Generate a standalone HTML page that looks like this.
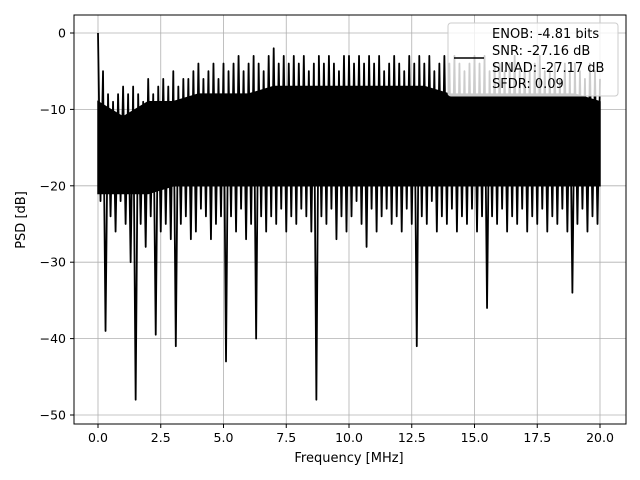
<!DOCTYPE html>
<html><head><meta charset="utf-8"><style>
body{margin:0;background:#fff;}
svg{display:block;font-family:"DejaVu Sans","Liberation Sans",sans-serif;}
</style></head><body>
<svg id="chart" width="640" height="480">
<rect x="0" y="0" width="640" height="480" fill="#fff"/>
<g id="grid"></g>
<g id="plot"></g>
<rect x="74" y="15" width="552" height="409" fill="none" stroke="#000" stroke-width="1"/>
<g id="ticks"></g>
<text x="349" y="462" font-size="13" text-anchor="middle">Frequency [MHz]</text>
<text transform="translate(25,220) rotate(-90)" font-size="13" text-anchor="middle">PSD [dB]</text>
<g>
<rect x="448" y="23" width="170" height="73" rx="3" fill="#fff" fill-opacity="0.8" stroke="#ccc"/>
<line x1="454" y1="58" x2="484" y2="58" stroke="#000" stroke-width="1.5"/>
<text x="492" y="38" font-size="13">ENOB: -4.81 bits</text>
<text x="492" y="55" font-size="13">SNR: -27.16 dB</text>
<text x="492" y="72" font-size="13">SINAD: -27.17 dB</text>
<text x="492" y="88" font-size="13">SFDR: 0.09</text>
</g>
</svg>
<script>
const xTicks=[0,2.5,5,7.5,10,12.5,15,17.5,20];
const xTickLabels=["0.0","2.5","5.0","7.5","10.0","12.5","15.0","17.5","20.0"];
const yTicks=[0,-10,-20,-30,-40,-50];
const yTickLabels=["0","\u221210","\u221220","\u221230","\u221240","\u221250"];
const fStart=0, fEnd=20;
const bandUpper=[-9,-11,-9,-9,-8,-8,-8,-7,-7,-7,-7,-7,-7,-7,-8,-8,-8,-8,-8,-8,-9];
const bandLower=[-21,-21,-21,-20,-20,-20,-20,-20,-20,-20,-20,-20,-20,-20,-20,-20,-20,-20,-20,-20,-20];
const psd=[0,-22,-5,-39,-8,-24,-9,-26,-8,-22,
-7,-25,-8,-30,-7,-48,-8,-25,-9,-28,
-6,-24,-8,-39.5,-7,-26,-6,-25,-7,-27,
-5,-41,-7,-25,-6,-24,-6,-27,-5,-26,
-4,-23,-6,-24,-5,-27,-4,-25,-6,-24,
-4,-43,-5,-24,-4,-26,-3,-23,-5,-27,
-4,-25,-3,-40,-4,-24,-5,-26,-3,-24,
-2,-25,-4,-23,-3,-26,-4,-24,-3,-25,
-4,-23,-3,-24,-5,-26,-4,-48,-3,-24,
-4,-25,-3,-23,-4,-27,-5,-24,-3,-26,
-3,-24,-4,-22,-3,-25,-4,-28,-3,-23,
-4,-26,-3,-24,-5,-23,-4,-25,-3,-24,
-4,-26,-5,-23,-3,-25,-4,-41,-3,-24,
-4,-25,-3,-22,-5,-26,-4,-24,-3,-25,
-4,-23,-3,-26,-4,-24,-5,-25,-4,-23,
-3,-26,-4,-24,-3,-36,-5,-24,-4,-25,
-4,-23,-5,-26,-4,-24,-3,-25,-5,-23,
-4,-26,-5,-24,-4,-25,-3,-23,-5,-26,
-5,-24,-4,-25,-6,-23,-4,-26,-5,-34,
-4,-25,-5,-23,-6,-26,-4,-24,-5,-25,-6];
const X0=98, X1=600, Y0=33, Y50=415;
function xs(f){return X0+(f-0)/20*(X1-X0);}
function ys(v){return Y0+(-v)/50*(Y50-Y0);}
const NS="http://www.w3.org/2000/svg";
const grid=document.getElementById('grid'), ticks=document.getElementById('ticks'), plot=document.getElementById('plot');
function mk(t,a){const e=document.createElementNS(NS,t);for(const k in a)e.setAttribute(k,a[k]);return e;}
xTicks.forEach((t,i)=>{
 const x=xs(t);
 const g=mk('line',{x1:x,y1:15,x2:x,y2:424,stroke:'#b0b0b0','stroke-width':0.8});
 
 
 grid.appendChild(g);
 const tk=mk('line',{x1:x,y1:424,x2:x,y2:428,stroke:'#000'});
 
 
 ticks.appendChild(tk);
 const tx=mk('text',{x:x,y:442,'font-size':12.5,'text-anchor':'middle'});
 tx.textContent=xTickLabels[i];
 
 
 ticks.appendChild(tx);
});
yTicks.forEach((t,i)=>{
 const y=ys(t);
 const g=mk('line',{x1:74,y1:y,x2:626,y2:y,stroke:'#b0b0b0','stroke-width':0.8});
 
 
 grid.appendChild(g);
 const tk=mk('line',{x1:70,y1:y,x2:74,y2:y,stroke:'#000'});
 
 
 ticks.appendChild(tk);
 const tx=mk('text',{x:66,y:y+4.5,'font-size':12.5,'text-anchor':'end'});
 tx.textContent=yTickLabels[i];
 
 
 ticks.appendChild(tx);
});
// dense band
let bd='';
const nb=bandUpper.length;
bandUpper.forEach((v,i)=>{const f=fStart+(fEnd-fStart)*i/(nb-1);bd+=(i?'L':'M')+xs(f).toFixed(2)+','+ys(v).toFixed(2);});
for(let i=nb-1;i>=0;i--){const f=fStart+(fEnd-fStart)*i/(nb-1);bd+='L'+xs(f).toFixed(2)+','+ys(bandLower[i]).toFixed(2);}
bd+='Z';
const band=mk('path',{d:bd,fill:'#000',stroke:'#000','stroke-width':1.5});


plot.appendChild(band);
const n=psd.length;
let d='';
psd.forEach((v,i)=>{const f=fStart+(fEnd-fStart)*i/(n-1);d+=(i?'L':'M')+xs(f).toFixed(2)+','+ys(v).toFixed(2);});
const line=mk('path',{d:d,fill:'none',stroke:'#000','stroke-width':1.8,'stroke-linejoin':'round'});


plot.appendChild(line);
</script>
</body></html>
